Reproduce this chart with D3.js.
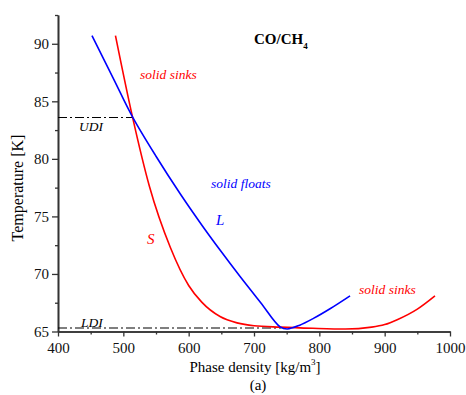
<!DOCTYPE html>
<html>
<head>
<meta charset="utf-8">
<script src="https://cdn.jsdelivr.net/npm/d3@7"></script>
<style>
  body { margin: 0; background: #fff; }
  text { font-family: "Liberation Serif", "Times New Roman", serif; }
</style>
</head>
<body>
<div id="chart"></div>
<script>
let width = 466;
let height = 395;

// liquid branch L (density, temperature)
let liquidDensity = [452, 485, 514, 550, 587, 620, 648, 679, 710, 740, 751, 770, 791, 817, 847];
let liquidTemp    = [90.7, 86.95, 83.65, 80.23, 76.97, 74.26, 72.08, 69.76, 67.53, 65.4, 65.22, 65.55, 66.14, 67.0, 68.1];

// solid branch S
let solidDensity = [488, 514, 540, 572, 600, 620, 648, 674, 700, 740, 790, 840, 880, 900, 920, 950, 977];
let solidTemp    = [90.7, 83.65, 77.6, 72.3, 69.0, 67.55, 66.3, 65.75, 65.5, 65.38, 65.28, 65.22, 65.38, 65.6, 66.05, 66.95, 68.1];

let xTicks = [400, 500, 600, 700, 800, 900, 1000];
let xMinor = [450, 550, 650, 750, 850, 950];
let yTicks = [65, 70, 75, 80, 85, 90];
let yMinor = [67.5, 72.5, 77.5, 82.5, 87.5, 92.5];

let udi = 83.6;
let udiEnd = 514;
let ldi = 65.3;
let ldiEnd = 742;

let serif = '"Liberation Serif", "Times New Roman", serif';

let svg = d3.select("#chart")
    .append("svg")
    .attr("width", width)
    .attr("height", height);

let xScale = d3.scaleLinear().domain([400, 1000]).range([58, 450]);
let yScale = d3.scaleLinear().domain([65, 92.5]).range([331.5, 15]);

let axisColor = "#333";

// minor ticks first, then major axes on top
svg.append("g")
    .attr("transform", "translate(0," + yScale(65) + ")")
    .call(d3.axisBottom(xScale).tickValues(xMinor).tickSize(3).tickSizeOuter(0).tickFormat(""));
svg.append("g")
    .attr("transform", "translate(" + xScale(400) + ",0)")
    .call(d3.axisLeft(yScale).tickValues(yMinor).tickSize(3).tickSizeOuter(0).tickFormat(""));

svg.append("g")
    .attr("transform", "translate(0," + yScale(65) + ")")
    .call(d3.axisBottom(xScale).tickValues(xTicks).tickSize(5).tickSizeOuter(0)
        .tickPadding(6).tickFormat(d3.format("d")))
    .attr("font-family", serif)
    .attr("font-size", 15);
svg.append("g")
    .attr("transform", "translate(" + xScale(400) + ",0)")
    .call(d3.axisLeft(yScale).tickValues(yTicks).tickSize(6).tickSizeOuter(0).tickPadding(3))
    .attr("font-family", serif)
    .attr("font-size", 15);

svg.selectAll(".domain").attr("stroke", axisColor).attr("stroke-width", 1.6);
svg.selectAll(".tick line").attr("stroke", axisColor).attr("stroke-width", 1.3);
svg.selectAll(".tick text").attr("fill", "#111");

// interface lines (dash-dot)
let dashDot = "9,3,2,3";
svg.append("line")
    .attr("x1", xScale(400)).attr("x2", xScale(udiEnd))
    .attr("y1", yScale(udi)).attr("y2", yScale(udi))
    .attr("stroke", "#000").attr("stroke-width", 1.1)
    .attr("stroke-dasharray", dashDot);
svg.append("line")
    .attr("x1", xScale(400)).attr("x2", xScale(ldiEnd))
    .attr("y1", yScale(ldi)).attr("y2", yScale(ldi))
    .attr("stroke", "#000").attr("stroke-width", 1.1)
    .attr("stroke-dasharray", dashDot);

let solidLine = d3.line()
    .x(d => xScale(d[0]))
    .y(d => yScale(d[1]))
    .curve(d3.curveMonotoneX);

let liquidLine = d3.line()
    .x(d => xScale(d[0]))
    .y(d => yScale(d[1]))
    .curve(d3.curveCatmullRom.alpha(0.5));

svg.append("path")
    .datum(solidDensity.map((d, i) => [d, solidTemp[i]]))
    .attr("d", solidLine)
    .attr("fill", "none")
    .attr("stroke", "#ff0000")
    .attr("stroke-width", 1.6);

svg.append("path")
    .datum(liquidDensity.map((d, i) => [d, liquidTemp[i]]))
    .attr("d", liquidLine)
    .attr("fill", "none")
    .attr("stroke", "#0000ff")
    .attr("stroke-width", 1.6);

// annotations
function label(x, y, txt, color, size, style) {
    return svg.append("text")
        .attr("x", x).attr("y", y)
        .attr("fill", color)
        .style("font-size", size + "px")
        .style("font-style", style || "italic")
        .text(txt);
}

label(140, 79, "solid sinks", "#ff0000", 13.5);
label(79, 131, "UDI", "#000", 13.5);
label(211, 188, "solid floats", "#0000ff", 13.5);
label(216, 225, "L", "#0000ff", 15);
label(147, 244, "S", "#ff0000", 15);
label(359, 294, "solid sinks", "#ff0000", 13.5);
label(81, 327, "LDI", "#000", 13.5);

let title = svg.append("text")
    .attr("x", 254).attr("y", 43.5)
    .attr("fill", "#000")
    .style("font-size", "15px")
    .style("font-weight", "bold");
title.append("tspan").text("CO/CH");
title.append("tspan").attr("dy", 5).style("font-size", "9px").text("4");

// axis titles
let xTitle = svg.append("text")
    .attr("x", 255).attr("y", 372)
    .attr("text-anchor", "middle")
    .attr("fill", "#000")
    .style("font-size", "15px");
xTitle.append("tspan").text("Phase density [kg/m");
xTitle.append("tspan").attr("dy", -7).style("font-size", "9px").text("3");
xTitle.append("tspan").attr("dy", 7).text("]");

svg.append("text")
    .attr("x", 258).attr("y", 390)
    .attr("text-anchor", "middle")
    .attr("fill", "#000")
    .style("font-size", "15px")
    .text("(a)");

svg.append("text")
    .attr("transform", "translate(23,188) rotate(-90)")
    .attr("text-anchor", "middle")
    .attr("fill", "#000")
    .style("font-size", "16px")
    .text("Temperature [K]");
</script>
</body>
</html>
